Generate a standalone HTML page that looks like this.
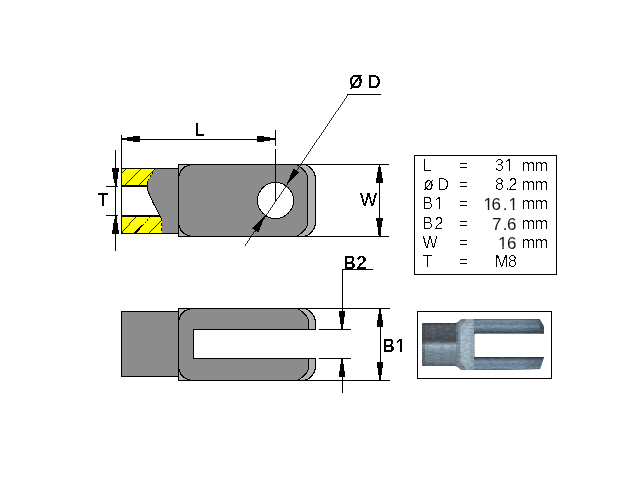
<!DOCTYPE html>
<html>
<head>
<meta charset="utf-8">
<title>Clevis dimensions</title>
<style>
html,body{margin:0;padding:0;background:#fff;}
body{width:640px;height:480px;overflow:hidden;position:relative;font-family:"Liberation Sans",sans-serif;}
svg{position:absolute;left:0;top:0;display:block;}
.t{font-family:"Liberation Sans",sans-serif;font-size:16px;fill:#000;}
.lbl{font-family:"Liberation Sans",sans-serif;font-size:18px;fill:#000;stroke:#000;stroke-width:0.4px;}
text{white-space:pre;}
</style>
</head>
<body>
<svg width="640" height="480" viewBox="0 0 640 480">
<defs>
<filter id="alias" x="0" y="0" width="640" height="480" filterUnits="userSpaceOnUse" color-interpolation-filters="sRGB">
<feFlood flood-color="#fff" result="w"/>
<feComposite in="SourceGraphic" in2="w" operator="over"/>
<feColorMatrix type="matrix" values="0 0 0 0 0  0 0 0 0 0  0 0 0 0 0  -1 0 0 0 1"/>
<feComponentTransfer><feFuncA type="linear" slope="1000" intercept="-650"/></feComponentTransfer>
</filter>
<filter id="alias2" x="0" y="0" width="640" height="480" filterUnits="userSpaceOnUse" color-interpolation-filters="sRGB">
<feComponentTransfer><feFuncA type="discrete" tableValues="0 1"/></feComponentTransfer>
</filter>
<filter id="soft" x="0" y="0" width="640" height="480" filterUnits="userSpaceOnUse" color-interpolation-filters="sRGB">
<feComponentTransfer><feFuncA type="linear" slope="0.92" intercept="0"/></feComponentTransfer>
</filter>
<clipPath id="clipY1"><path d="M122 169 H155 L148 183 V185 H122 Z"/></clipPath>
<clipPath id="clipY2"><rect x="122" y="216" width="40" height="17"/></clipPath>
</defs>
<rect x="0" y="0" width="640" height="480" fill="#fff"/>

<!-- ================= TOP VIEW ================= -->
<g id="topview" shape-rendering="crispEdges">
  <!-- yellow threaded section -->
  <path d="M122 169 H156 L148 184 V186 H122 Z" fill="#ffff00"/>
  <rect x="122" y="216" width="40" height="17" fill="#ffff00"/>
  <g stroke="#000" stroke-width="0.85" fill="none">
    <g clip-path="url(#clipY1)">
      <path d="M120.500 174 L127.500 167.500 M124 186.200 L141.600 168.300 M138.300 186.200 L155.200 169"/>
    </g>
    <g clip-path="url(#clipY2)">
      <path d="M120.750 234 L136.500 216 M148.500 234 L162.500 219"/>
      <path d="M134 234 L142.500 225.300" stroke-width="1.600"/>
      <path d="M142.500 225.300 L151.300 216" stroke-dasharray="1.500 1.800"/>
    </g>
  </g>
  <!-- grey shank -->
  <path d="M155 168.500 L178.500 168.500 L178.500 233.500 L162 233.500 L162 222 L161 217.500 L158.500 213 L153.500 203.500 L150 196 L148 191 L147.500 187 L147.500 181 Z" fill="#8c8c8c"/>
  <path d="M147.500 181 L147.500 187 L148 191 L150 196 L153.500 203.500 L158.500 213 L161 217.500" fill="none" stroke="#000" stroke-width="1"/>
  <path d="M155 168.500 L147.500 181" fill="none" stroke="#000" stroke-width="1" stroke-dasharray="2 2"/>
  <path d="M161.500 217.500 V233" fill="none" stroke="#000" stroke-width="1" stroke-dasharray="3 2"/>
  <!-- body outer -->
  <path d="M178.500 164.500 H304.500 c5 1.500 9.500 5.500 11 12.500 V224 c-1.500 7 -6 11 -11 12.500 H178.500 Z" fill="#b2b2b2" stroke="#000" stroke-width="1"/>
  <path d="M189 165 H297 c3.500 1.500 8.500 6 10.500 10.500 V225.500 c-2 4.500 -7 9 -10.500 10.500 H189 A10 10 0 0 1 179 226 V175 A10 10 0 0 1 189 165 Z" fill="#8c8c8c"/>
  <path d="M297 165 c3.500 1.500 8.500 6 10.500 10.500 V225.500 c-2 4.500 -7 9 -10.500 10.500" fill="none" stroke="#000" stroke-width="1"/>
  <path d="M190 165.500 A10.500 10.500 0 0 0 179.500 176 M179.500 225 A10.500 10.500 0 0 0 190 235.500" fill="none" stroke="#000" stroke-width="1"/>
  <!-- outlines -->
  <rect x="121" y="168" width="58" height="1" fill="#000"/>
  <rect x="121" y="233" width="58" height="1" fill="#000"/>
  <rect x="122" y="185" width="26" height="2" fill="#000"/>
  <rect x="122" y="215" width="38" height="2" fill="#000"/>
</g>
<g id="topcircle" shape-rendering="crispEdges">
  <circle cx="275.500" cy="200.500" r="18" fill="#fff" stroke="#000" stroke-width="1"/>
</g>
<g id="topdims" shape-rendering="crispEdges" fill="#000">
  <!-- L dimension -->
  <rect x="121" y="135" width="1" height="99"/>
  <rect x="121" y="139" width="155" height="1"/>
  <rect x="122" y="138" width="5" height="2"/><rect x="127" y="137" width="6" height="4"/><rect x="133" y="136" width="7" height="6"/>
  <rect x="270" y="138" width="5" height="2"/><rect x="264" y="137" width="6" height="4"/><rect x="257" y="136" width="7" height="6"/>
  <rect x="275" y="130" width="1" height="16"/>
  <rect x="275" y="149" width="1" height="52"/>
  <!-- T dimension -->
  <rect x="115" y="150" width="1" height="101"/>
  <rect x="106" y="186" width="12" height="1"/>
  <rect x="106" y="215" width="12" height="1"/>
  <rect x="115" y="183" width="2" height="3"/><rect x="114" y="179" width="3" height="4"/><rect x="113" y="172" width="5" height="7"/><rect x="112" y="168" width="7" height="4"/>
  <rect x="115" y="216" width="2" height="3"/><rect x="114" y="219" width="3" height="4"/><rect x="113" y="223" width="5" height="7"/><rect x="112" y="230" width="7" height="4"/>
  <!-- W dimension -->
  <rect x="305" y="164" width="84" height="1"/>
  <rect x="305" y="236" width="84" height="1"/>
  <rect x="379" y="164" width="1" height="73"/>
  <rect x="379" y="165" width="1" height="2"/><rect x="378" y="167" width="3" height="5"/><rect x="377" y="172" width="5" height="6"/><rect x="376" y="178" width="7" height="5"/>
  <rect x="379" y="235" width="2" height="1"/><rect x="378" y="227" width="3" height="8"/><rect x="377" y="221" width="5" height="6"/><rect x="376" y="218" width="7" height="3"/>
  <!-- OD leader -->
  <rect x="347" y="94" width="34" height="1"/>
  <line x1="347.500" y1="94.500" x2="244.800" y2="246" stroke="#000" stroke-width="0.82"/>
  <polygon points="286,186 299.400,172.600 293.400,168.600"/>
  <polygon points="265.300,215.500 258.300,232.500 252.200,228.300"/>
</g>

<!-- ================= BOTTOM VIEW ================= -->
<g id="botview" shape-rendering="crispEdges">
  <rect x="121.500" y="311.500" width="57" height="65" fill="#8c8c8c" stroke="#000" stroke-width="1"/>
  <!-- outer light -->
  <path d="M178.500 308.500 H304.500 c5 1.500 9.500 5.500 11 12.500 V329.500 H193.500 V358.500 H315.500 V368 c-1.500 7 -6 11 -11 12.500 H178.500 Z" fill="#b2b2b2" stroke="#000" stroke-width="1"/>
  <!-- inner dark -->
  <path d="M189 309 H298 c3.500 1.500 8.500 6 10.500 10.500 V329 H193 V359 H308.500 V369.500 c-2 4.500 -7 9 -10.500 10.500 H189 A10 10 0 0 1 179 370 V319 A10 10 0 0 1 189 309 Z" fill="#8c8c8c"/>
  <path d="M298 309 c3.500 1.500 8.500 6 10.500 10.500 V329 M308.500 359 V369.500 c-2 4.500 -7 9 -10.500 10.500" fill="none" stroke="#000" stroke-width="1"/>
  <path d="M190 309.500 A10.500 10.500 0 0 0 179.500 320 M179.500 369 A10.500 10.500 0 0 0 190 379.500" fill="none" stroke="#000" stroke-width="1"/>
  <rect x="193" y="329" width="123" height="1" fill="#000"/>
  <rect x="193" y="358" width="123" height="1" fill="#000"/>
  <rect x="193" y="329" width="1" height="30" fill="#000"/>
  <rect x="178" y="308" width="138" height="1" fill="#000"/>
  <rect x="178" y="380" width="138" height="1" fill="#000"/>
</g>
<g id="botdims" shape-rendering="crispEdges" fill="#000">
  <rect x="305" y="308" width="85" height="1"/>
  <rect x="305" y="380" width="85" height="1"/>
  <rect x="380" y="308" width="1" height="73"/>
  <rect x="379" y="309" width="2" height="5"/><rect x="378" y="314" width="4" height="6"/><rect x="377" y="320" width="6" height="7"/>
  <rect x="379" y="375" width="2" height="5"/><rect x="378" y="368" width="4" height="7"/><rect x="377" y="362" width="6" height="6"/>
  <rect x="319" y="329" width="32" height="1"/>
  <rect x="319" y="358" width="32" height="1"/>
  <rect x="342" y="269" width="1" height="60"/>
  <rect x="342" y="358" width="1" height="35"/>
  <rect x="342" y="269" width="31" height="1"/>
  <rect x="341" y="324" width="2" height="5"/><rect x="340" y="317" width="4" height="7"/><rect x="339" y="311" width="6" height="6"/>
  <rect x="341" y="359" width="2" height="5"/><rect x="340" y="364" width="4" height="7"/><rect x="339" y="371" width="6" height="6"/>
</g>

<!-- ================= TABLE + PHOTO FRAMES ================= -->
<rect x="414.500" y="155.500" width="142" height="119" fill="#fff" stroke="#000" stroke-width="1" shape-rendering="crispEdges"/>
<rect x="417.500" y="311.500" width="134" height="67" fill="#fff" stroke="#000" stroke-width="1" shape-rendering="crispEdges"/>
<g id="photo">
  <defs>
    <clipPath id="sil"><path d="M422 324 Q422 323 423.500 323 H455 Q458 322.500 459.500 320.500 Q460.500 319 462.500 319 H539.500 L544 326.500 V333.500 H475.500 Q474.500 333.500 474.500 334.500 V356 Q474.500 357 475.500 357 H544 L540 369 L500 370 H462.500 Q460.500 370 459.500 368.500 Q458 366.500 455 366 H423.500 Q422 366 422 365 Z"/></clipPath>
    <linearGradient id="gShank" x1="0" y1="323" x2="0" y2="366" gradientUnits="userSpaceOnUse">
      <stop offset="0" stop-color="#2e3236"/>
      <stop offset="0.06" stop-color="#585e63"/>
      <stop offset="0.25" stop-color="#50565b"/>
      <stop offset="0.40" stop-color="#44494d"/>
      <stop offset="0.47" stop-color="#6f7d88"/>
      <stop offset="0.53" stop-color="#aabfce"/>
      <stop offset="0.60" stop-color="#8c9fad"/>
      <stop offset="0.70" stop-color="#778995"/>
      <stop offset="0.90" stop-color="#6d7d88"/>
      <stop offset="1" stop-color="#515e67"/>
    </linearGradient>
    <linearGradient id="gBody" x1="0" y1="319" x2="0" y2="370" gradientUnits="userSpaceOnUse">
      <stop offset="0" stop-color="#6c7a85"/>
      <stop offset="0.15" stop-color="#93a7b5"/>
      <stop offset="0.5" stop-color="#9db2c0"/>
      <stop offset="0.85" stop-color="#8a9dab"/>
      <stop offset="1" stop-color="#5d6b75"/>
    </linearGradient>
    <linearGradient id="gP1" x1="0" y1="319" x2="0" y2="334" gradientUnits="userSpaceOnUse">
      <stop offset="0" stop-color="#465259"/>
      <stop offset="0.12" stop-color="#7e93a5"/>
      <stop offset="0.30" stop-color="#687d90"/>
      <stop offset="0.50" stop-color="#8299ab"/>
      <stop offset="0.70" stop-color="#5f7386"/>
      <stop offset="0.88" stop-color="#44525f"/>
      <stop offset="1" stop-color="#1f2830"/>
    </linearGradient>
    <linearGradient id="gP2" x1="0" y1="357" x2="0" y2="370" gradientUnits="userSpaceOnUse">
      <stop offset="0" stop-color="#1f2830"/>
      <stop offset="0.14" stop-color="#4f6070"/>
      <stop offset="0.35" stop-color="#7c93a7"/>
      <stop offset="0.60" stop-color="#6c8397"/>
      <stop offset="0.85" stop-color="#7f95a8"/>
      <stop offset="1" stop-color="#55636f"/>
    </linearGradient>
    <linearGradient id="gTip" x1="0" y1="0" x2="1" y2="0">
      <stop offset="0" stop-color="#000" stop-opacity="0"/>
      <stop offset="1" stop-color="#10161c" stop-opacity="0.3"/>
    </linearGradient>
    <filter id="grain" x="418" y="312" width="133" height="66" filterUnits="userSpaceOnUse" color-interpolation-filters="sRGB">
      <feTurbulence type="fractalNoise" baseFrequency="0.22 0.6" numOctaves="2" seed="7" result="n"/>
      <feColorMatrix in="n" type="matrix" values="0 0 0 0 0.85  0 0 0 0 0.92  0 0 0 0 1  1.6 1.6 0 0 -1.35"/>
    </filter>
    <filter id="grainD" x="418" y="312" width="133" height="66" filterUnits="userSpaceOnUse" color-interpolation-filters="sRGB">
      <feTurbulence type="fractalNoise" baseFrequency="0.2 0.6" numOctaves="2" seed="23" result="n"/>
      <feColorMatrix in="n" type="matrix" values="0 0 0 0 0.1  0 0 0 0 0.13  0 0 0 0 0.16  1.6 0 1.6 0 -1.35"/>
    </filter>
  </defs>
  <g clip-path="url(#sil)">
    <rect x="422" y="319" width="123" height="52" fill="url(#gBody)"/>
    <rect x="422" y="323" width="36" height="43" fill="url(#gShank)"/>
    <rect x="422" y="323" width="3" height="43" fill="#2c3238" opacity="0.35"/>
    <path d="M456 323 L461 319 H466 L460 326 V363 L466 370 H461 L456 366 Z" fill="#72828d" opacity="0.7"/>
    <path d="M466 319 H476 L470 332 V357 L476 370 H466 L461 361 V328 Z" fill="#b5c9d6" opacity="0.55"/>
    <rect x="473" y="333" width="2" height="24" fill="#a8947c" opacity="0.6"/>
    <rect x="474" y="319" width="71" height="15" fill="url(#gP1)"/>
    <rect x="474" y="357" width="71" height="14" fill="url(#gP2)"/>
    <rect x="520" y="319" width="25" height="15" fill="url(#gTip)"/>
    <rect x="520" y="357" width="25" height="14" fill="url(#gTip)"/>
    <path d="M539.500 319 L544 326.500 V333.500 H540 Z" fill="#3a444c" opacity="0.7"/>
    <rect x="418" y="312" width="133" height="66" filter="url(#grain)" opacity="0.14"/>
    <rect x="418" y="312" width="133" height="66" filter="url(#grainD)" opacity="0.2"/>
  </g>
</g>

<!-- ================= TEXT ================= -->
<g id="labels" filter="url(#alias2)">
<text class="lbl" x="194.500" y="136">L</text>
<text class="lbl" x="349.500" y="88" textLength="12.700" lengthAdjust="spacingAndGlyphs">Ø</text><text class="lbl" x="362 367.500" y="88"> D</text>
<text class="lbl" x="97.500" y="206">T</text>
<text class="lbl" x="360" y="206" style="stroke-width:0.15px">W</text>
<text class="lbl" x="343.500 356.500" y="269">B2</text>
<text class="lbl" x="382.500 395.500" y="352">B1</text>
</g>
<g class="t" filter="url(#alias)">
<text x="422.5" y="171">L</text><text x="459" y="171">=</text><text x="495 504.5" y="171">31</text><text x="521.75 534.75" y="171">mm</text>
<text x="423.5" y="190" font-size="19" textLength="10.5" lengthAdjust="spacingAndGlyphs">ø</text><text x="433 437.5" y="190"> D</text><text x="459" y="190">=</text><text x="495 505 508.5" y="190">8.2</text><text x="521.75 534.75" y="190">mm</text>
<text x="422.5 434.5" y="209">B1</text><text x="459" y="209">=</text><text x="521.75 534.75" y="209">mm</text>
<text x="422.5 434.5" y="229">B2</text><text x="459" y="229">=</text><text x="521.75 534.75" y="229">mm</text>
<text x="422.5" y="248">W</text><text x="459" y="248">=</text><text x="521.75 534.75" y="248">mm</text>
<text x="422.5" y="267">T</text><text x="459" y="267">=</text><text x="495 508" y="267">M8</text>
</g>
<g id="aavals" filter="url(#soft)" style="font-family:'Liberation Sans',sans-serif;font-size:17px;fill:#000;">
<text x="483.500 491.400 502.700 508.500" y="210">16.1</text>
<text x="492 502.700 507" y="230">7.6</text>
<text x="497.900 507" y="248.500">16</text>
</g>
<g id="footcoveraa" fill="#fff">
<rect x="483.5" y="207.5" width="4.26" height="3"/><rect x="489.38" y="207.5" width="2.8" height="3"/>
<rect x="508.5" y="207.5" width="4.26" height="3"/><rect x="514.38" y="207.5" width="3.6" height="3"/>
<rect x="498" y="246.500" width="4.35" height="3"/><rect x="503.8" y="246.500" width="3" height="3"/>
</g>
<g id="footcover" fill="#fff" shape-rendering="crispEdges">
<rect x="397" y="350" width="3" height="2"/><rect x="402" y="350" width="3" height="2"/>
<rect x="436" y="208" width="3" height="1"/><rect x="440" y="208" width="2" height="1"/>
<rect x="506" y="170" width="3" height="1"/><rect x="510" y="170" width="2" height="1"/>
</g>
</svg>
</body>
</html>
